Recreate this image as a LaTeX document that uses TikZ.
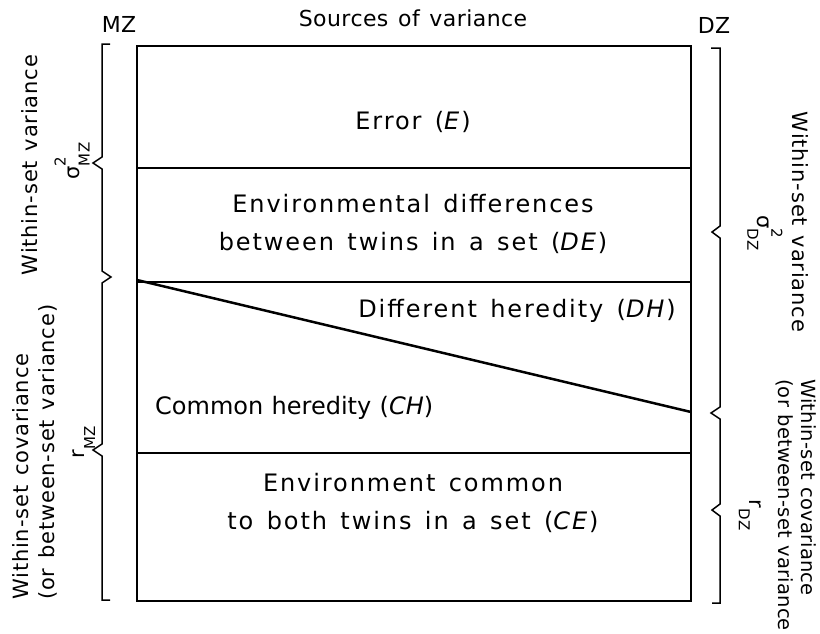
\documentclass[tikz,border=0pt]{standalone}
\usepackage{fontspec}
\setmainfont{DejaVu Sans}[LetterSpace=2.0, WordSpace=1.3]
\newfontfamily\boxfont{DejaVu Sans}[LetterSpace=8.0, WordSpace=1.4]
\newfontfamily\chfont{DejaVu Sans}[LetterSpace=0.0, WordSpace=1.1]
\newfontfamily\sidefont{DejaVu Sans}[LetterSpace=4.0, WordSpace=1.3]
\newfontfamily\sidesmfont{DejaVu Sans}[LetterSpace=1.0, WordSpace=1.2]
\newcommand{\sigsub}[1]{σ\rlap{\raisebox{1.2ex}{\fontsize{15}{15}\selectfont 2}}\raisebox{-0.9ex}{\fontsize{15}{15}\selectfont #1}}
\newcommand{\rsub}[1]{r\raisebox{-0.9ex}{\fontsize{15}{15}\selectfont #1}}
\begin{document}
\begin{tikzpicture}[x=1pt,y=-1pt,
  txt/.style={font=\boxfont\fontsize{24}{38}\selectfont, align=center, inner sep=0pt},
  head/.style={font=\fontsize{22}{24}\selectfont, inner sep=0pt},
  side/.style={font=\sidefont\fontsize{21}{26}\selectfont, align=center, inner sep=0pt},
  sidesm/.style={font=\sidesmfont\fontsize{19.5}{23}\selectfont, align=left, inner sep=0pt},
  boxline/.style={line width=2.5pt},
  bracel/.style={line width=1.5pt, line join=miter}]
\useasboundingbox (0,0) rectangle (820,633);
% box
\draw[boxline] (137,46) rectangle (691,601);
\draw[boxline] (137,168) -- (691,168);
\draw[boxline] (137,282) -- (691,282);
\draw[boxline] (137,453) -- (691,453);
\draw[boxline] (137,280) -- (691,412);
% left braces
\draw[bracel] (110,44) -- (102,44) -- (102,157) -- (93,163) -- (102,169) -- (102,271) -- (111,277) -- (102,283)
  -- (102,444) -- (93,450) -- (102,456) -- (102,600) -- (110,600);
% right braces
\draw[bracel] (711,48) -- (720,48) -- (720,226) -- (712,232) -- (720,238) -- (720,407) -- (711,413) -- (720,419)
  -- (720,504) -- (712,510) -- (720,516) -- (720,603) -- (712,603);
% texts
\node[head] (title) at (413,18) {Sources of variance};
\node[head] (mz) at (119,24) {MZ};
\node[head] (dz) at (714,25) {DZ};
\node[txt] (e) at (413,122) {Error (\textit{E})};
\node[txt] (de) at (413,224) {Environmental differences\\between twins in a set (\textit{DE})};
\node[txt,anchor=east] (dh) at (676,311) {Different heredity (\textit{DH})};
\node[txt,font=\chfont\fontsize{24}{38}\selectfont,anchor=west] (ch) at (155,408) {Common heredity (\textit{CH})};
\node[txt] (ce) at (413,503) {Environment common\\to both twins in a set (\textit{CE})};
% left side
\node[side,rotate=90] (lvar) at (30,165) {Within-set variance};
\node[side,rotate=90] (lsig) at (72,161) {\sigsub{MZ}};
\node[side,rotate=90,align=left,anchor=west] (lcov) at (35,600) {Within-set covariance\\(or between-set variance)};
\node[side,rotate=90] (lr) at (84,442) {\rsub{MZ}};
% right side
\node[side,rotate=-90] (rvar) at (800,222) {Within-set variance};
\node[side,rotate=-90] (rsig) at (765,233) {\sigsub{DZ}};
\node[sidesm,rotate=-90,anchor=west] (rcov) at (796,379) {Within-set covariance\\(or between-set variance};
\node[side,rotate=-90] (rr) at (750,515) {\rsub{DZ}};
\end{tikzpicture}
\end{document}
